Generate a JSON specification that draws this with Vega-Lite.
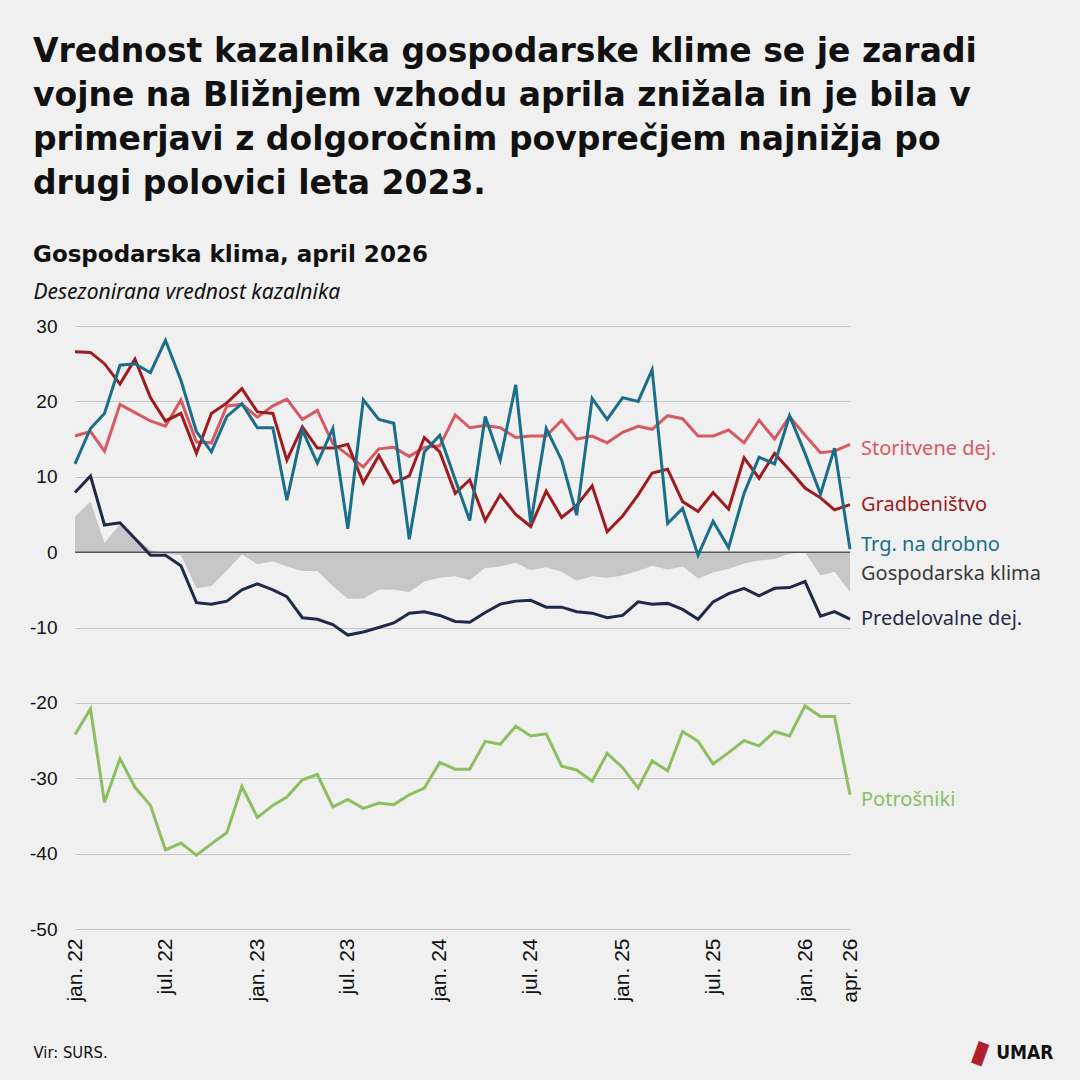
{
"$schema": "https://vega.github.io/schema/vega-lite/v6.json",
"width": 775, "height": 603,
"autosize": {"type": "none"},
"padding": {"left": 75, "top": 326, "right": 230, "bottom": 151},
"background": "#eff0ef",
"config": {"view": {"stroke": null}},
"title": {
  "text": ["Vrednost kazalnika gospodarske klime se je zaradi", "vojne na Bližnjem vzhodu aprila znižala in je bila v", "primerjavi z dolgoročnim povprečjem najnižja po", "drugi polovici leta 2023."],
  "subtitle": "Gospodarska klima, april 2026",
  "anchor": "start", "frame": "group", "dx": -42,
  "font": "DejaVu Sans", "fontSize": 33, "fontWeight": "bold", "color": "#111111", "lineHeight": 44,
  "subtitleFont": "DejaVu Sans", "subtitleFontSize": 23, "subtitleFontWeight": "bold", "subtitleColor": "#111111",
  "subtitlePadding": 43, "offset": 14
},
"data": {"format": {"parse": {"m": "utc:'%Y-%m-%d'"}}, "values": [
{"m":"2022-01-01","s":"Storitvene dej.","v":15.4},{"m":"2022-02-01","s":"Storitvene dej.","v":16.0},{"m":"2022-03-01","s":"Storitvene dej.","v":13.4},{"m":"2022-04-01","s":"Storitvene dej.","v":19.6},{"m":"2022-05-01","s":"Storitvene dej.","v":18.5},{"m":"2022-06-01","s":"Storitvene dej.","v":17.4},{"m":"2022-07-01","s":"Storitvene dej.","v":16.7},{"m":"2022-08-01","s":"Storitvene dej.","v":20.2},{"m":"2022-09-01","s":"Storitvene dej.","v":14.6},{"m":"2022-10-01","s":"Storitvene dej.","v":14.5},{"m":"2022-11-01","s":"Storitvene dej.","v":19.4},{"m":"2022-12-01","s":"Storitvene dej.","v":19.6},
{"m":"2023-01-01","s":"Storitvene dej.","v":17.9},{"m":"2023-02-01","s":"Storitvene dej.","v":19.4},{"m":"2023-03-01","s":"Storitvene dej.","v":20.3},{"m":"2023-04-01","s":"Storitvene dej.","v":17.6},{"m":"2023-05-01","s":"Storitvene dej.","v":18.8},{"m":"2023-06-01","s":"Storitvene dej.","v":14.4},{"m":"2023-07-01","s":"Storitvene dej.","v":12.9},{"m":"2023-08-01","s":"Storitvene dej.","v":11.3},{"m":"2023-09-01","s":"Storitvene dej.","v":13.7},{"m":"2023-10-01","s":"Storitvene dej.","v":13.9},{"m":"2023-11-01","s":"Storitvene dej.","v":12.7},{"m":"2023-12-01","s":"Storitvene dej.","v":13.9},
{"m":"2024-01-01","s":"Storitvene dej.","v":14.1},{"m":"2024-02-01","s":"Storitvene dej.","v":18.2},{"m":"2024-03-01","s":"Storitvene dej.","v":16.5},{"m":"2024-04-01","s":"Storitvene dej.","v":16.8},{"m":"2024-05-01","s":"Storitvene dej.","v":16.5},{"m":"2024-06-01","s":"Storitvene dej.","v":15.2},{"m":"2024-07-01","s":"Storitvene dej.","v":15.4},{"m":"2024-08-01","s":"Storitvene dej.","v":15.4},{"m":"2024-09-01","s":"Storitvene dej.","v":17.5},{"m":"2024-10-01","s":"Storitvene dej.","v":15.0},{"m":"2024-11-01","s":"Storitvene dej.","v":15.4},{"m":"2024-12-01","s":"Storitvene dej.","v":14.5},
{"m":"2025-01-01","s":"Storitvene dej.","v":15.9},{"m":"2025-02-01","s":"Storitvene dej.","v":16.7},{"m":"2025-03-01","s":"Storitvene dej.","v":16.3},{"m":"2025-04-01","s":"Storitvene dej.","v":18.1},{"m":"2025-05-01","s":"Storitvene dej.","v":17.7},{"m":"2025-06-01","s":"Storitvene dej.","v":15.4},{"m":"2025-07-01","s":"Storitvene dej.","v":15.4},{"m":"2025-08-01","s":"Storitvene dej.","v":16.2},{"m":"2025-09-01","s":"Storitvene dej.","v":14.5},{"m":"2025-10-01","s":"Storitvene dej.","v":17.5},{"m":"2025-11-01","s":"Storitvene dej.","v":15.0},{"m":"2025-12-01","s":"Storitvene dej.","v":18.0},
{"m":"2026-01-01","s":"Storitvene dej.","v":15.5},{"m":"2026-02-01","s":"Storitvene dej.","v":13.2},{"m":"2026-03-01","s":"Storitvene dej.","v":13.4},{"m":"2026-04-01","s":"Storitvene dej.","v":14.3},

{"m":"2022-01-01","s":"Gradbeništvo","v":26.6},{"m":"2022-02-01","s":"Gradbeništvo","v":26.5},{"m":"2022-03-01","s":"Gradbeništvo","v":25.0},{"m":"2022-04-01","s":"Gradbeništvo","v":22.3},{"m":"2022-05-01","s":"Gradbeništvo","v":25.6},{"m":"2022-06-01","s":"Gradbeništvo","v":20.5},{"m":"2022-07-01","s":"Gradbeništvo","v":17.4},{"m":"2022-08-01","s":"Gradbeništvo","v":18.4},{"m":"2022-09-01","s":"Gradbeništvo","v":13.1},{"m":"2022-10-01","s":"Gradbeništvo","v":18.4},{"m":"2022-11-01","s":"Gradbeništvo","v":19.8},{"m":"2022-12-01","s":"Gradbeništvo","v":21.7},
{"m":"2023-01-01","s":"Gradbeništvo","v":18.6},{"m":"2023-02-01","s":"Gradbeništvo","v":18.4},{"m":"2023-03-01","s":"Gradbeništvo","v":12.2},{"m":"2023-04-01","s":"Gradbeništvo","v":16.6},{"m":"2023-05-01","s":"Gradbeništvo","v":13.8},{"m":"2023-06-01","s":"Gradbeništvo","v":13.8},{"m":"2023-07-01","s":"Gradbeništvo","v":14.3},{"m":"2023-08-01","s":"Gradbeništvo","v":9.2},{"m":"2023-09-01","s":"Gradbeništvo","v":12.8},{"m":"2023-10-01","s":"Gradbeništvo","v":9.2},{"m":"2023-11-01","s":"Gradbeništvo","v":10.1},{"m":"2023-12-01","s":"Gradbeništvo","v":15.2},
{"m":"2024-01-01","s":"Gradbeništvo","v":13.3},{"m":"2024-02-01","s":"Gradbeništvo","v":7.8},{"m":"2024-03-01","s":"Gradbeništvo","v":9.6},{"m":"2024-04-01","s":"Gradbeništvo","v":4.2},{"m":"2024-05-01","s":"Gradbeništvo","v":7.6},{"m":"2024-06-01","s":"Gradbeništvo","v":5.0},{"m":"2024-07-01","s":"Gradbeništvo","v":3.4},{"m":"2024-08-01","s":"Gradbeništvo","v":8.1},{"m":"2024-09-01","s":"Gradbeništvo","v":4.6},{"m":"2024-10-01","s":"Gradbeništvo","v":6.2},{"m":"2024-11-01","s":"Gradbeništvo","v":8.8},{"m":"2024-12-01","s":"Gradbeništvo","v":2.7},
{"m":"2025-01-01","s":"Gradbeništvo","v":4.8},{"m":"2025-02-01","s":"Gradbeništvo","v":7.6},{"m":"2025-03-01","s":"Gradbeništvo","v":10.5},{"m":"2025-04-01","s":"Gradbeništvo","v":11.0},{"m":"2025-05-01","s":"Gradbeništvo","v":6.7},{"m":"2025-06-01","s":"Gradbeništvo","v":5.4},{"m":"2025-07-01","s":"Gradbeništvo","v":7.9},{"m":"2025-08-01","s":"Gradbeništvo","v":5.7},{"m":"2025-09-01","s":"Gradbeništvo","v":12.5},{"m":"2025-10-01","s":"Gradbeništvo","v":9.8},{"m":"2025-11-01","s":"Gradbeništvo","v":13.1},{"m":"2025-12-01","s":"Gradbeništvo","v":10.9},
{"m":"2026-01-01","s":"Gradbeništvo","v":8.5},{"m":"2026-02-01","s":"Gradbeništvo","v":7.2},{"m":"2026-03-01","s":"Gradbeništvo","v":5.6},{"m":"2026-04-01","s":"Gradbeništvo","v":6.3},

{"m":"2022-01-01","s":"Trg. na drobno","v":11.7},{"m":"2022-02-01","s":"Trg. na drobno","v":16.4},{"m":"2022-03-01","s":"Trg. na drobno","v":18.4},{"m":"2022-04-01","s":"Trg. na drobno","v":24.8},{"m":"2022-05-01","s":"Trg. na drobno","v":25.0},{"m":"2022-06-01","s":"Trg. na drobno","v":23.8},{"m":"2022-07-01","s":"Trg. na drobno","v":28.1},{"m":"2022-08-01","s":"Trg. na drobno","v":22.8},{"m":"2022-09-01","s":"Trg. na drobno","v":16.0},{"m":"2022-10-01","s":"Trg. na drobno","v":13.3},{"m":"2022-11-01","s":"Trg. na drobno","v":18.0},{"m":"2022-12-01","s":"Trg. na drobno","v":19.7},
{"m":"2023-01-01","s":"Trg. na drobno","v":16.5},{"m":"2023-02-01","s":"Trg. na drobno","v":16.5},{"m":"2023-03-01","s":"Trg. na drobno","v":6.9},{"m":"2023-04-01","s":"Trg. na drobno","v":16.2},{"m":"2023-05-01","s":"Trg. na drobno","v":11.8},{"m":"2023-06-01","s":"Trg. na drobno","v":16.4},{"m":"2023-07-01","s":"Trg. na drobno","v":3.1},{"m":"2023-08-01","s":"Trg. na drobno","v":20.2},{"m":"2023-09-01","s":"Trg. na drobno","v":17.6},{"m":"2023-10-01","s":"Trg. na drobno","v":17.1},{"m":"2023-11-01","s":"Trg. na drobno","v":1.7},{"m":"2023-12-01","s":"Trg. na drobno","v":13.3},
{"m":"2024-01-01","s":"Trg. na drobno","v":15.5},{"m":"2024-02-01","s":"Trg. na drobno","v":9.6},{"m":"2024-03-01","s":"Trg. na drobno","v":4.2},{"m":"2024-04-01","s":"Trg. na drobno","v":18.0},{"m":"2024-05-01","s":"Trg. na drobno","v":12.2},{"m":"2024-06-01","s":"Trg. na drobno","v":22.2},{"m":"2024-07-01","s":"Trg. na drobno","v":3.8},{"m":"2024-08-01","s":"Trg. na drobno","v":16.4},{"m":"2024-09-01","s":"Trg. na drobno","v":12.2},{"m":"2024-10-01","s":"Trg. na drobno","v":4.9},{"m":"2024-11-01","s":"Trg. na drobno","v":20.4},{"m":"2024-12-01","s":"Trg. na drobno","v":17.6},
{"m":"2025-01-01","s":"Trg. na drobno","v":20.5},{"m":"2025-02-01","s":"Trg. na drobno","v":20.0},{"m":"2025-03-01","s":"Trg. na drobno","v":24.2},{"m":"2025-04-01","s":"Trg. na drobno","v":3.8},{"m":"2025-05-01","s":"Trg. na drobno","v":5.8},{"m":"2025-06-01","s":"Trg. na drobno","v":-0.4},{"m":"2025-07-01","s":"Trg. na drobno","v":4.1},{"m":"2025-08-01","s":"Trg. na drobno","v":0.6},{"m":"2025-09-01","s":"Trg. na drobno","v":7.8},{"m":"2025-10-01","s":"Trg. na drobno","v":12.6},{"m":"2025-11-01","s":"Trg. na drobno","v":11.7},{"m":"2025-12-01","s":"Trg. na drobno","v":18.1},
{"m":"2026-01-01","s":"Trg. na drobno","v":13.1},{"m":"2026-02-01","s":"Trg. na drobno","v":7.7},{"m":"2026-03-01","s":"Trg. na drobno","v":13.8},{"m":"2026-04-01","s":"Trg. na drobno","v":0.4},

{"m":"2022-01-01","s":"Gospodarska klima","v":4.7},{"m":"2022-02-01","s":"Gospodarska klima","v":6.7},{"m":"2022-03-01","s":"Gospodarska klima","v":1.2},{"m":"2022-04-01","s":"Gospodarska klima","v":3.7},{"m":"2022-05-01","s":"Gospodarska klima","v":2.0},{"m":"2022-06-01","s":"Gospodarska klima","v":0.3},{"m":"2022-07-01","s":"Gospodarska klima","v":-0.2},{"m":"2022-08-01","s":"Gospodarska klima","v":-0.4},{"m":"2022-09-01","s":"Gospodarska klima","v":-4.8},{"m":"2022-10-01","s":"Gospodarska klima","v":-4.5},{"m":"2022-11-01","s":"Gospodarska klima","v":-2.4},{"m":"2022-12-01","s":"Gospodarska klima","v":-0.3},
{"m":"2023-01-01","s":"Gospodarska klima","v":-1.6},{"m":"2023-02-01","s":"Gospodarska klima","v":-1.2},{"m":"2023-03-01","s":"Gospodarska klima","v":-1.9},{"m":"2023-04-01","s":"Gospodarska klima","v":-2.5},{"m":"2023-05-01","s":"Gospodarska klima","v":-2.5},{"m":"2023-06-01","s":"Gospodarska klima","v":-4.5},{"m":"2023-07-01","s":"Gospodarska klima","v":-6.2},{"m":"2023-08-01","s":"Gospodarska klima","v":-6.2},{"m":"2023-09-01","s":"Gospodarska klima","v":-5.0},{"m":"2023-10-01","s":"Gospodarska klima","v":-5.0},{"m":"2023-11-01","s":"Gospodarska klima","v":-5.3},{"m":"2023-12-01","s":"Gospodarska klima","v":-3.9},
{"m":"2024-01-01","s":"Gospodarska klima","v":-3.4},{"m":"2024-02-01","s":"Gospodarska klima","v":-3.2},{"m":"2024-03-01","s":"Gospodarska klima","v":-3.7},{"m":"2024-04-01","s":"Gospodarska klima","v":-2.1},{"m":"2024-05-01","s":"Gospodarska klima","v":-1.9},{"m":"2024-06-01","s":"Gospodarska klima","v":-1.4},{"m":"2024-07-01","s":"Gospodarska klima","v":-2.4},{"m":"2024-08-01","s":"Gospodarska klima","v":-2.0},{"m":"2024-09-01","s":"Gospodarska klima","v":-2.6},{"m":"2024-10-01","s":"Gospodarska klima","v":-3.8},{"m":"2024-11-01","s":"Gospodarska klima","v":-3.2},{"m":"2024-12-01","s":"Gospodarska klima","v":-3.4},
{"m":"2025-01-01","s":"Gospodarska klima","v":-3.1},{"m":"2025-02-01","s":"Gospodarska klima","v":-2.5},{"m":"2025-03-01","s":"Gospodarska klima","v":-1.8},{"m":"2025-04-01","s":"Gospodarska klima","v":-2.3},{"m":"2025-05-01","s":"Gospodarska klima","v":-1.9},{"m":"2025-06-01","s":"Gospodarska klima","v":-3.5},{"m":"2025-07-01","s":"Gospodarska klima","v":-2.7},{"m":"2025-08-01","s":"Gospodarska klima","v":-2.2},{"m":"2025-09-01","s":"Gospodarska klima","v":-1.5},{"m":"2025-10-01","s":"Gospodarska klima","v":-1.1},{"m":"2025-11-01","s":"Gospodarska klima","v":-0.9},{"m":"2025-12-01","s":"Gospodarska klima","v":-0.2},
{"m":"2026-01-01","s":"Gospodarska klima","v":0.0},{"m":"2026-02-01","s":"Gospodarska klima","v":-3.1},{"m":"2026-03-01","s":"Gospodarska klima","v":-2.6},{"m":"2026-04-01","s":"Gospodarska klima","v":-5.3},

{"m":"2022-01-01","s":"Predelovalne dej.","v":7.9},{"m":"2022-02-01","s":"Predelovalne dej.","v":10.1},{"m":"2022-03-01","s":"Predelovalne dej.","v":3.6},{"m":"2022-04-01","s":"Predelovalne dej.","v":3.9},{"m":"2022-05-01","s":"Predelovalne dej.","v":1.8},{"m":"2022-06-01","s":"Predelovalne dej.","v":-0.4},{"m":"2022-07-01","s":"Predelovalne dej.","v":-0.4},{"m":"2022-08-01","s":"Predelovalne dej.","v":-1.8},{"m":"2022-09-01","s":"Predelovalne dej.","v":-6.7},{"m":"2022-10-01","s":"Predelovalne dej.","v":-6.9},{"m":"2022-11-01","s":"Predelovalne dej.","v":-6.5},{"m":"2022-12-01","s":"Predelovalne dej.","v":-5.0},
{"m":"2023-01-01","s":"Predelovalne dej.","v":-4.2},{"m":"2023-02-01","s":"Predelovalne dej.","v":-5.0},{"m":"2023-03-01","s":"Predelovalne dej.","v":-5.9},{"m":"2023-04-01","s":"Predelovalne dej.","v":-8.7},{"m":"2023-05-01","s":"Predelovalne dej.","v":-8.9},{"m":"2023-06-01","s":"Predelovalne dej.","v":-9.6},{"m":"2023-07-01","s":"Predelovalne dej.","v":-11.0},{"m":"2023-08-01","s":"Predelovalne dej.","v":-10.6},{"m":"2023-09-01","s":"Predelovalne dej.","v":-10.0},{"m":"2023-10-01","s":"Predelovalne dej.","v":-9.4},{"m":"2023-11-01","s":"Predelovalne dej.","v":-8.1},{"m":"2023-12-01","s":"Predelovalne dej.","v":-7.9},
{"m":"2024-01-01","s":"Predelovalne dej.","v":-8.4},{"m":"2024-02-01","s":"Predelovalne dej.","v":-9.2},{"m":"2024-03-01","s":"Predelovalne dej.","v":-9.3},{"m":"2024-04-01","s":"Predelovalne dej.","v":-8.0},{"m":"2024-05-01","s":"Predelovalne dej.","v":-6.9},{"m":"2024-06-01","s":"Predelovalne dej.","v":-6.5},{"m":"2024-07-01","s":"Predelovalne dej.","v":-6.4},{"m":"2024-08-01","s":"Predelovalne dej.","v":-7.3},{"m":"2024-09-01","s":"Predelovalne dej.","v":-7.3},{"m":"2024-10-01","s":"Predelovalne dej.","v":-7.9},{"m":"2024-11-01","s":"Predelovalne dej.","v":-8.1},{"m":"2024-12-01","s":"Predelovalne dej.","v":-8.7},
{"m":"2025-01-01","s":"Predelovalne dej.","v":-8.4},{"m":"2025-02-01","s":"Predelovalne dej.","v":-6.6},{"m":"2025-03-01","s":"Predelovalne dej.","v":-6.9},{"m":"2025-04-01","s":"Predelovalne dej.","v":-6.8},{"m":"2025-05-01","s":"Predelovalne dej.","v":-7.6},{"m":"2025-06-01","s":"Predelovalne dej.","v":-8.9},{"m":"2025-07-01","s":"Predelovalne dej.","v":-6.6},{"m":"2025-08-01","s":"Predelovalne dej.","v":-5.5},{"m":"2025-09-01","s":"Predelovalne dej.","v":-4.8},{"m":"2025-10-01","s":"Predelovalne dej.","v":-5.8},{"m":"2025-11-01","s":"Predelovalne dej.","v":-4.8},{"m":"2025-12-01","s":"Predelovalne dej.","v":-4.7},
{"m":"2026-01-01","s":"Predelovalne dej.","v":-3.9},{"m":"2026-02-01","s":"Predelovalne dej.","v":-8.5},{"m":"2026-03-01","s":"Predelovalne dej.","v":-7.9},{"m":"2026-04-01","s":"Predelovalne dej.","v":-8.9},

{"m":"2022-01-01","s":"Potrošniki","v":-24.2},{"m":"2022-02-01","s":"Potrošniki","v":-20.8},{"m":"2022-03-01","s":"Potrošniki","v":-33.2},{"m":"2022-04-01","s":"Potrošniki","v":-27.4},{"m":"2022-05-01","s":"Potrošniki","v":-31.2},{"m":"2022-06-01","s":"Potrošniki","v":-33.6},{"m":"2022-07-01","s":"Potrošniki","v":-39.5},{"m":"2022-08-01","s":"Potrošniki","v":-38.6},{"m":"2022-09-01","s":"Potrošniki","v":-40.2},{"m":"2022-10-01","s":"Potrošniki","v":-38.7},{"m":"2022-11-01","s":"Potrošniki","v":-37.2},{"m":"2022-12-01","s":"Potrošniki","v":-31.1},
{"m":"2023-01-01","s":"Potrošniki","v":-35.2},{"m":"2023-02-01","s":"Potrošniki","v":-33.6},{"m":"2023-03-01","s":"Potrošniki","v":-32.5},{"m":"2023-04-01","s":"Potrošniki","v":-30.2},{"m":"2023-05-01","s":"Potrošniki","v":-29.5},{"m":"2023-06-01","s":"Potrošniki","v":-33.8},{"m":"2023-07-01","s":"Potrošniki","v":-32.8},{"m":"2023-08-01","s":"Potrošniki","v":-34.0},{"m":"2023-09-01","s":"Potrošniki","v":-33.3},{"m":"2023-10-01","s":"Potrošniki","v":-33.5},{"m":"2023-11-01","s":"Potrošniki","v":-32.2},{"m":"2023-12-01","s":"Potrošniki","v":-31.3},
{"m":"2024-01-01","s":"Potrošniki","v":-27.9},{"m":"2024-02-01","s":"Potrošniki","v":-28.8},{"m":"2024-03-01","s":"Potrošniki","v":-28.8},{"m":"2024-04-01","s":"Potrošniki","v":-25.1},{"m":"2024-05-01","s":"Potrošniki","v":-25.5},{"m":"2024-06-01","s":"Potrošniki","v":-23.1},{"m":"2024-07-01","s":"Potrošniki","v":-24.4},{"m":"2024-08-01","s":"Potrošniki","v":-24.1},{"m":"2024-09-01","s":"Potrošniki","v":-28.4},{"m":"2024-10-01","s":"Potrošniki","v":-28.9},{"m":"2024-11-01","s":"Potrošniki","v":-30.4},{"m":"2024-12-01","s":"Potrošniki","v":-26.7},
{"m":"2025-01-01","s":"Potrošniki","v":-28.6},{"m":"2025-02-01","s":"Potrošniki","v":-31.3},{"m":"2025-03-01","s":"Potrošniki","v":-27.7},{"m":"2025-04-01","s":"Potrošniki","v":-29.0},{"m":"2025-05-01","s":"Potrošniki","v":-23.8},{"m":"2025-06-01","s":"Potrošniki","v":-25.1},{"m":"2025-07-01","s":"Potrošniki","v":-28.1},{"m":"2025-08-01","s":"Potrošniki","v":-26.6},{"m":"2025-09-01","s":"Potrošniki","v":-25.0},{"m":"2025-10-01","s":"Potrošniki","v":-25.7},{"m":"2025-11-01","s":"Potrošniki","v":-23.8},{"m":"2025-12-01","s":"Potrošniki","v":-24.4},
{"m":"2026-01-01","s":"Potrošniki","v":-20.4},{"m":"2026-02-01","s":"Potrošniki","v":-21.8},{"m":"2026-03-01","s":"Potrošniki","v":-21.8},{"m":"2026-04-01","s":"Potrošniki","v":-32.2}
]},
"resolve": {"axis": {"x": "independent", "y": "independent"}},
"layer": [
  {
    "transform": [{"filter": "datum.s === 'Gospodarska klima'"}],
    "mark": {"type": "area", "color": "#c6c6c6"},
    "encoding": {
      "x": {"field": "m", "type": "temporal",
        "scale": {"type": "utc", "domain": [{"year": 2022, "month": 1, "date": 1, "utc": true}, {"year": 2026, "month": 4, "date": 1, "utc": true}]},
        "axis": {
          "values": [{"year": 2022, "month": 1, "date": 1, "utc": true}, {"year": 2022, "month": 7, "date": 1, "utc": true}, {"year": 2023, "month": 1, "date": 1, "utc": true}, {"year": 2023, "month": 7, "date": 1, "utc": true}, {"year": 2024, "month": 1, "date": 1, "utc": true}, {"year": 2024, "month": 7, "date": 1, "utc": true}, {"year": 2025, "month": 1, "date": 1, "utc": true}, {"year": 2025, "month": 7, "date": 1, "utc": true}, {"year": 2026, "month": 1, "date": 1, "utc": true}, {"year": 2026, "month": 4, "date": 1, "utc": true}],
          "labelExpr": "lower(utcFormat(datum.value, '%b')) + '. ' + utcFormat(datum.value, '%y')",
          "labelAngle": -90, "labelFont": "Liberation Sans", "labelFontSize": 21, "labelColor": "#111111", "labelPadding": 9,
          "labelOverlap": false, "labelBound": false, "labelFlush": false,
          "ticks": false, "domain": false, "grid": false,
          "title": "Vir: SURS.", "titleX": -42, "titleY": 123, "titleAlign": "left", "titleBaseline": "middle", "titleAngle": 0,
          "titleFont": "DejaVu Sans Condensed, Liberation Sans", "titleFontSize": 16.5, "titleFontWeight": "normal", "titleColor": "#111111"
        }},
      "y": {"field": "v", "type": "quantitative",
        "scale": {"domain": [-50, 30], "nice": false, "zero": false},
        "axis": {
          "values": [-50, -40, -30, -20, -10, 0, 10, 20, 30],
          "labelExpr": "'' + datum.value",
          "grid": true, "gridColor": "#c4c4c4", "gridWidth": 1, "domain": false, "ticks": false,
          "labelFont": "Liberation Sans", "labelFontSize": 19, "labelColor": "#111111", "labelPadding": 18,
          "title": "Desezonirana vrednost kazalnika", "titleAngle": 0, "titleX": -42, "titleY": -34, "titleAlign": "left", "titleBaseline": "middle",
          "titleFont": "Noto Sans", "titleFontStyle": "italic", "titleFontWeight": "normal", "titleFontSize": 21, "titleColor": "#111111"
        }}
    }
  },
  {
    "data": {"values": [{}]},
    "mark": {"type": "rule", "color": "#555555", "strokeWidth": 1.5},
    "encoding": {"y": {"datum": 0, "axis": null}}
  },
  {
    "transform": [{"filter": "datum.s !== 'Gospodarska klima'"}],
    "mark": {"type": "line", "strokeWidth": 3, "strokeJoin": "miter"},
    "encoding": {
      "x": {"field": "m", "type": "temporal", "axis": null},
      "y": {"field": "v", "type": "quantitative", "axis": null},
      "color": {"field": "s", "type": "nominal", "legend": null,
        "scale": {"domain": ["Storitvene dej.", "Trg. na drobno", "Gradbeništvo", "Predelovalne dej.", "Potrošniki"],
                  "range": ["#d65a62", "#1a6e89", "#9e1b1f", "#1f2a48", "#8cbf62"]}}
    }
  },
  {
    "transform": [{"filter": "utcyear(datum.m) === 2026 && utcmonth(datum.m) === 3 && (datum.s === 'Gradbeništvo' || datum.s === 'Predelovalne dej.')"}],
    "mark": {"type": "text", "align": "left", "baseline": "middle", "dx": 11, "font": "Noto Sans", "fontSize": 20},
    "encoding": {
      "x": {"field": "m", "type": "temporal", "axis": null},
      "y": {"field": "v", "type": "quantitative", "axis": null},
      "text": {"field": "s"},
      "color": {"field": "s", "type": "nominal", "legend": null}
    }
  },
  {
    "transform": [{"filter": "utcyear(datum.m) === 2026 && utcmonth(datum.m) === 3 && (datum.s === 'Storitvene dej.' || datum.s === 'Potrošniki')"}],
    "mark": {"type": "text", "align": "left", "baseline": "middle", "dx": 11, "dy": 5, "font": "Noto Sans", "fontSize": 20},
    "encoding": {
      "x": {"field": "m", "type": "temporal", "axis": null},
      "y": {"field": "v", "type": "quantitative", "axis": null},
      "text": {"field": "s"},
      "color": {"field": "s", "type": "nominal", "legend": null}
    }
  },
  {
    "transform": [{"filter": "utcyear(datum.m) === 2026 && utcmonth(datum.m) === 3 && datum.s === 'Trg. na drobno'"}],
    "mark": {"type": "text", "align": "left", "baseline": "middle", "dx": 11, "dy": -4, "font": "Noto Sans", "fontSize": 20},
    "encoding": {
      "x": {"field": "m", "type": "temporal", "axis": null},
      "y": {"field": "v", "type": "quantitative",
        "axis": {"orient": "right", "labels": false, "ticks": false, "domain": false, "grid": false,
          "title": "▮", "titleX": 130, "titleY": 726, "titleAlign": "center", "titleBaseline": "middle", "titleAngle": 20,
          "titleFont": "DejaVu Sans", "titleFontSize": 30, "titleFontWeight": "normal", "titleColor": "#b01f2e"}},
      "text": {"field": "s"},
      "color": {"field": "s", "type": "nominal", "legend": null}
    }
  },
  {
    "transform": [{"filter": "utcyear(datum.m) === 2026 && utcmonth(datum.m) === 3 && datum.s === 'Gospodarska klima'"}],
    "mark": {"type": "text", "align": "left", "baseline": "middle", "dx": 11, "dy": -18, "font": "Noto Sans", "fontSize": 20, "color": "#3a3a3a"},
    "encoding": {
      "x": {"field": "m", "type": "temporal",
        "axis": {"orient": "top", "labels": false, "ticks": false, "domain": false, "grid": false,
          "title": "UMAR", "titleX": 978, "titleY": 726, "titleAlign": "right", "titleBaseline": "middle", "titleAngle": 0,
          "titleFont": "DejaVu Sans Condensed, Liberation Sans", "titleFontSize": 19, "titleFontWeight": "bold", "titleColor": "#111111"}},
      "y": {"field": "v", "type": "quantitative", "axis": null},
      "text": {"field": "s"}
    }
  }
]
}
